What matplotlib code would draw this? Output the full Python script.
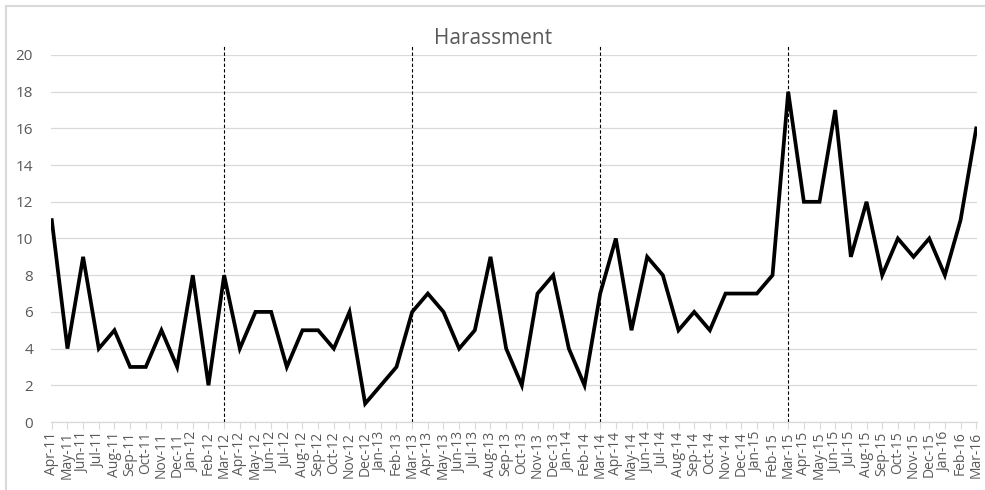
import matplotlib
matplotlib.use("Agg")
import matplotlib.pyplot as plt
from matplotlib.lines import Line2D

plt.rcParams['font.family'] = ['Open Sans', 'DejaVu Sans']

months = ["Apr", "May", "Jun", "Jul", "Aug", "Sep", "Oct", "Nov", "Dec", "Jan", "Feb", "Mar"]
fy_start_years = [11, 12, 13, 14, 15]
labels = []
for y in fy_start_years:
    for i, m in enumerate(months):
        yy = y if i < 9 else y + 1
        labels.append(f"{m}-{yy:02d}")

values_2011 = [11, 4, 9, 4, 5, 3, 3, 5, 3, 8, 2, 8]
values_2012 = [4, 6, 6, 3, 5, 5, 4, 6, 1, 2, 3, 6]
values_2013 = [7, 6, 4, 5, 9, 4, 2, 7, 8, 4, 2, 7]
values_2014 = [10, 5, 9, 8, 5, 6, 5, 7, 7, 7, 8, 18]
values_2015 = [12, 12, 17, 9, 12, 8, 10, 9, 10, 8, 11, 16]
values = values_2011 + values_2012 + values_2013 + values_2014 + values_2015

year_markers = ["Mar-12", "Mar-13", "Mar-14", "Mar-15"]

text_color = "#595959"
grid_color = "#d9d9d9"

fig = plt.figure(figsize=(9.85, 4.9), dpi=100)
ax = fig.add_axes([51 / 985, 1 - 422 / 490, (977 - 51) / 985, (422 - 55) / 490])

x = list(range(len(values)))
ax.plot(x, values, color="black", lw=2.7, solid_joinstyle="miter", zorder=3)

for lab in year_markers:
    xi = labels.index(lab)
    ax.plot([xi, xi], [0, 20.5], color="black", lw=0.8, ls=(0, (3, 2)),
            clip_on=False, zorder=2)

ax.set_xlim(-0.05, len(values) - 1 + 0.05)
ax.set_ylim(0, 20)
ax.set_yticks(range(0, 21, 2))
ax.set_xticks(x)
ax.set_xticklabels(labels, rotation=90, fontsize=10, color=text_color)
ax.tick_params(axis="y", length=0, labelsize=11, labelcolor=text_color, pad=13)
ax.tick_params(axis="x", length=5, color=grid_color, width=0.8, pad=2)
ax.grid(axis="y", color=grid_color, lw=0.9)
ax.set_axisbelow(True)
for s in ["top", "right", "left"]:
    ax.spines[s].set_visible(False)
ax.spines["bottom"].set_color(grid_color)
ax.spines["bottom"].set_linewidth(0.9)

fig.text(493 / 985, 1 - 38 / 490, "Harassment", ha="center", va="center",
         fontsize=15, color=text_color)

# chart frame
fig.add_artist(Line2D([6 / 985, 6 / 985], [0, 1 - 6 / 490], transform=fig.transFigure,
                      color=grid_color, lw=1.5))
fig.add_artist(Line2D([6 / 985, 1], [1 - 6 / 490, 1 - 6 / 490], transform=fig.transFigure,
                      color=grid_color, lw=1.5))

fig.savefig("out.png", dpi=100)
